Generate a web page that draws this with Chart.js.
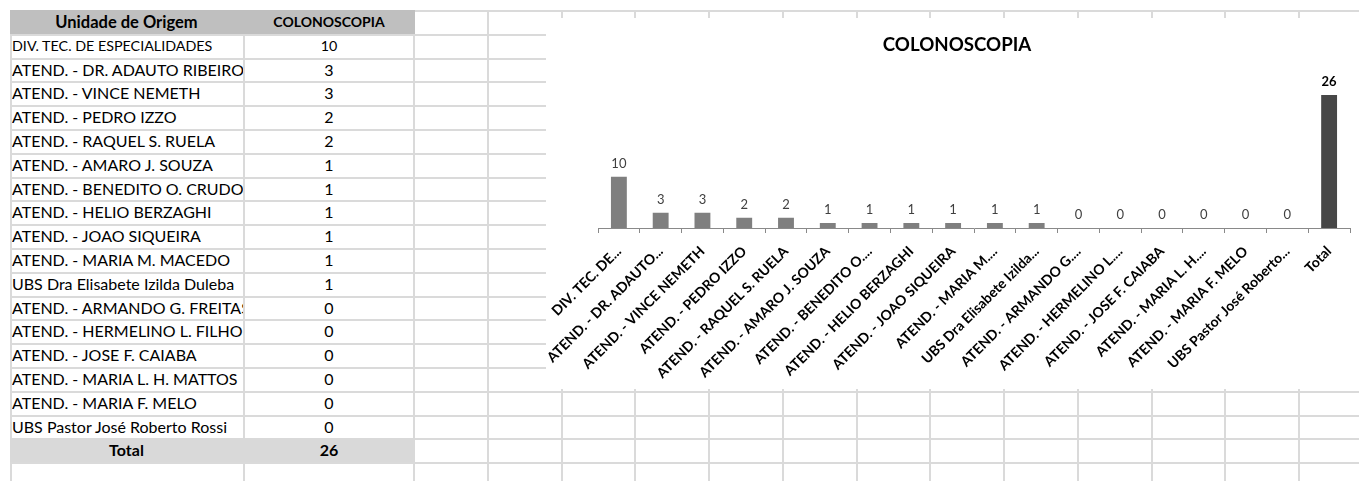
<!DOCTYPE html>
<html><head><meta charset="utf-8">
<script src="https://cdn.jsdelivr.net/npm/chart.js@4.4.0/dist/chart.umd.min.js"></script>
<style>
html,body{margin:0;padding:0;background:#fff;width:1359px;height:481px;overflow:hidden;font-family:Lato,'Open Sans',sans-serif;}
#sheet{position:absolute;left:0;top:0;width:1359px;height:481px;}
.gl{position:absolute;background:#dadada;}
.fill{position:absolute;}
.cell{position:absolute;font-size:16px;white-space:nowrap;overflow:hidden;color:#000;box-sizing:border-box;}
.bold{font-weight:bold;}
#chartBox{position:absolute;left:546px;top:18px;width:813px;height:371px;background:#fff;}
</style></head>
<body>
<div id="sheet"></div>
<div id="chartBox"><canvas id="c" width="813" height="371"></canvas></div>
<script>
const headerLabels = ['Unidade de Origem', 'COLONOSCOPIA'];
const units = [
  'DIV. TEC. DE ESPECIALIDADES',
  'ATEND. - DR. ADAUTO RIBEIRO',
  'ATEND. - VINCE NEMETH',
  'ATEND. - PEDRO IZZO',
  'ATEND. - RAQUEL S. RUELA',
  'ATEND. - AMARO J. SOUZA',
  'ATEND. - BENEDITO O. CRUDO',
  'ATEND. - HELIO BERZAGHI',
  'ATEND. - JOAO SIQUEIRA',
  'ATEND. - MARIA M. MACEDO',
  'UBS Dra Elisabete Izilda Duleba',
  'ATEND. - ARMANDO G. FREITAS',
  'ATEND. - HERMELINO L. FILHO',
  'ATEND. - JOSE F. CAIABA',
  'ATEND. - MARIA L. H. MATTOS',
  'ATEND. - MARIA F. MELO',
  'UBS Pastor José Roberto Rossi'
];
const values = [10, 3, 3, 2, 2, 1, 1, 1, 1, 1, 1, 0, 0, 0, 0, 0, 0];
const totalLabel = 'Total';
const totalValue = 26;
const tickLabels = [
  'DIV. TEC. DE...',
  'ATEND. - DR. ADAUTO...',
  'ATEND. - VINCE NEMETH',
  'ATEND. - PEDRO IZZO',
  'ATEND. - RAQUEL S. RUELA',
  'ATEND. - AMARO J. SOUZA',
  'ATEND. - BENEDITO O....',
  'ATEND. - HELIO BERZAGHI',
  'ATEND. - JOAO SIQUEIRA',
  'ATEND. - MARIA M....',
  'UBS Dra Elisabete Izilda...',
  'ATEND. - ARMANDO G....',
  'ATEND. - HERMELINO L....',
  'ATEND. - JOSE F. CAIABA',
  'ATEND. - MARIA L. H....',
  'ATEND. - MARIA F. MELO',
  'UBS Pastor José Roberto...',
  'Total'
];
const chartTitle = 'COLONOSCOPIA';

// ---- spreadsheet background ----
const sheet = document.getElementById('sheet');
const ROW_H = 23.8, TOP = 10, COL_W = 73.75;
function add(cls, st, text) {
  const d = document.createElement('div');
  d.className = cls;
  Object.assign(d.style, st);
  if (text !== undefined) d.textContent = text;
  sheet.appendChild(d);
  return d;
}
for (let k = 0; k <= 20; k++) {
  const y = TOP + ROW_H * k;
  if (y > 481) break;
  add('gl', {left: '10px', top: y + 'px', width: '1349px', height: '2px'});
}
const vx = [10, 243];
for (let x = 413; x < 1359; x += COL_W) vx.push(x);
vx.forEach(x => add('gl', {left: x + 'px', top: TOP + 'px', width: '2px', height: (481 - TOP) + 'px'}));

add('fill', {left: '10px', top: TOP + 'px', width: '405px', height: ROW_H + 'px', background: '#bfbfbf'});
const totalTop = TOP + ROW_H * (units.length + 1);
add('fill', {left: '10px', top: totalTop + 'px', width: '405px', height: ROW_H + 'px', background: '#d9d9d9'});

function rowCells(k, a, b, bold, centerA, sizeA, sizeB) {
  const top = TOP + ROW_H * k;
  const common = {top: (top + 1) + 'px', height: (ROW_H - 1) + 'px', lineHeight: (ROW_H - 1) + 'px'};
  add('cell' + (bold ? ' bold' : ''), Object.assign({left: centerA ? '10px' : '12px', width: centerA ? '233px' : '231px', textAlign: centerA ? 'center' : 'left', fontSize: sizeA + 'px'}, common), a);
  add('cell' + (bold ? ' bold' : ''), Object.assign({left: '245px', width: '168px', textAlign: 'center', fontSize: sizeB + 'px'}, common), b);
}
rowCells(0, headerLabels[0], headerLabels[1], true, true, 16.5, 14);
units.forEach((u, i) => rowCells(i + 1, u, String(values[i]), false, false, i === 0 ? 14.3 : 16, i === 0 ? 14.3 : 16));
rowCells(units.length + 1, totalLabel, String(totalValue), true, true, 16, 16);

// ---- chart ----
const allValues = values.concat([totalValue]);
const barColors = allValues.map((v, i) => i < values.length ? '#7f7f7f' : '#474747');

const valueLabels = {
  id: 'valueLabels',
  afterDatasetsDraw(chart) {
    const ctx = chart.ctx;
    const meta = chart.getDatasetMeta(0);
    ctx.save();
    ctx.textAlign = 'center';
    ctx.textBaseline = 'alphabetic';
    meta.data.forEach((el, i) => {
      const isTotal = i === values.length;
      ctx.font = (isTotal ? 'bold ' : '') + '13px Lato';
      ctx.fillStyle = isTotal ? '#000' : '#404040';
      ctx.fillText(String(allValues[i]), el.x, el.y - 9);
    });
    ctx.restore();
  }
};

function draw() {
  new Chart(document.getElementById('c'), {
    type: 'bar',
    data: {
      labels: tickLabels,
      datasets: [{
        data: allValues,
        backgroundColor: barColors,
        borderWidth: 0,
        categoryPercentage: 1,
        barPercentage: 0.38
      }]
    },
    options: {
      responsive: false,
      animation: false,
      devicePixelRatio: 1,
      layout: {padding: {left: 9, right: 0, top: 0, bottom: 0}},
      plugins: {
        legend: {display: false},
        tooltip: {enabled: false},
        title: {
          display: true, text: chartTitle, color: '#000',
          font: {family: 'Lato', size: 18.7, weight: 'bold', lineHeight: 1.2},
          padding: {top: 16, bottom: 18}
        }
      },
      scales: {
        x: {
          grid: {display: true, drawOnChartArea: false, drawTicks: true, tickLength: 5, color: '#898989', lineWidth: 1, offset: true},
          border: {display: true, color: '#898989', width: 1},
          ticks: {autoSkip: false, minRotation: 45, maxRotation: 45, padding: 10, color: '#000',
                  font: {family: 'Lato', size: 14, weight: 'bold'}},
          afterFit(scale) { scale.paddingLeft = 52; scale.paddingRight = 9; scale.height = 161; }
        },
        y: {display: false, min: 0, max: 30}
      }
    },
    plugins: [valueLabels]
  });
}
Promise.all([
  document.fonts.load('bold 14px Lato'),
  document.fonts.load('13px Lato'),
  document.fonts.load('bold 18px Lato')
]).then(draw, draw);
</script>
</body></html>
